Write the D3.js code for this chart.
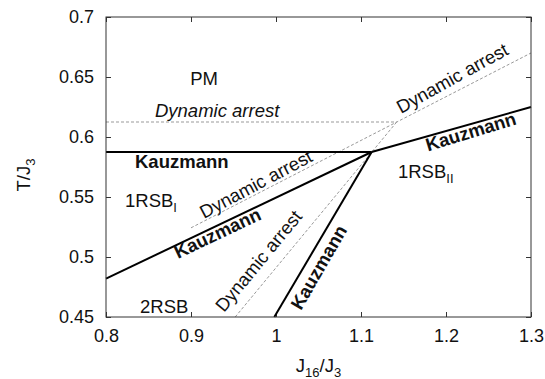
<!DOCTYPE html>
<html>
<head>
<meta charset="utf-8">
<script src="https://cdn.jsdelivr.net/npm/d3@7"></script>
<style>
  body { margin: 0; background: #fff; }
  svg { font-family: "Liberation Sans", Arial, Helvetica, sans-serif; }
  .frame { fill: none; stroke: #333; stroke-width: 1; }
  .kauzmann { fill: none; stroke: #000; stroke-width: 2; }
  .dynamic { fill: none; stroke: #999; stroke-width: 1; stroke-dasharray: 3,2; }
  .tick-label { font-size: 18px; fill: #111; }
  .note { font-size: 18.5px; fill: #111; }
</style>
</head>
<body>
<svg id="chart" width="545" height="379"></svg>
<script>
// axis ticks
const xTicks = [0.8, 0.9, 1.0, 1.1, 1.2, 1.3];
const yTicks = [0.45, 0.5, 0.55, 0.6, 0.65, 0.7];

// Kauzmann transition lines (J16/J3, T/J3)
const kauzmannTop = [[0.8, 0.5875], [1.1125, 0.5875]];
const kauzmannRight = [[1.1125, 0.5875], [1.3, 0.625]];
const kauzmannLeft = [[0.8, 0.482], [1.1125, 0.5875]];
const kauzmannSteep = [[0.998, 0.45], [1.1125, 0.5875]];

// dynamic arrest lines
const arrestTop = [[0.8, 0.6125], [1.142, 0.6125]];
const arrestShallow = [[0.9, 0.5243], [1.3, 0.67]];
const arrestSteep = [[0.952, 0.45], [1.142, 0.6125]];

// annotations: text, anchor point in data coords, rotation
const notes = [
  { text: "PM", x: 0.9153, y: 0.6433, anchor: "middle" },
  { text: "Dynamic arrest", x: 0.8576, y: 0.6164, italic: true },
  { text: "Kauzmann", x: 0.8341, y: 0.5742, bold: true },
  { text: "Dynamic arrest", x: 0.9153, y: 0.5317, angle: -28 },
  { text: "Kauzmann", x: 0.8847, y: 0.4983, angle: -25.5, bold: true },
  { text: "Dynamic arrest", x: 0.9388, y: 0.4533, angle: -50.5 },
  { text: "Kauzmann", x: 1.0294, y: 0.455, angle: -60, bold: true },
  { text: "Kauzmann", x: 1.1788, y: 0.5879, angle: -17, bold: true },
  { text: "Dynamic arrest", x: 1.147, y: 0.6192, angle: -29 },
  { text: "2RSB", x: 0.84, y: 0.4536 }
];
const phases = [
  { main: "1RSB", sub: "I", x: 0.8224, y: 0.5419 },
  { main: "1RSB", sub: "II", x: 1.1435, y: 0.5656 }
];

const margin = { left: 106, right: 14, top: 17, bottom: 62 };
const svg = d3.select("#chart");
const width = 545 - margin.left - margin.right;
const height = 379 - margin.top - margin.bottom;

const chart = svg.append("g")
  .attr("transform", "translate(" + margin.left + "," + margin.top + ")");

const xScale = d3.scaleLinear().domain([0.8, 1.3]).range([0, width]);
const yScale = d3.scaleLinear().domain([0.45, 0.7]).range([height, 0]);

const fmt = function (d) { return d === 1 ? "1" : d3.format("")(+d.toFixed(2)); };

// ticks on all four sides, pointing inward (gnuplot style)
const bottomAxis = chart.append("g")
  .attr("transform", "translate(0," + height + ")")
  .call(d3.axisBottom(xScale).tickValues(xTicks).tickSize(-5).tickPadding(12).tickFormat(fmt));
const topAxis = chart.append("g")
  .call(d3.axisTop(xScale).tickValues(xTicks).tickSize(-5).tickFormat(""));
const leftAxis = chart.append("g")
  .call(d3.axisLeft(yScale).tickValues(yTicks).tickSize(-5).tickPadding(12).tickFormat(fmt));
const rightAxis = chart.append("g")
  .attr("transform", "translate(" + width + ",0)")
  .call(d3.axisRight(yScale).tickValues(yTicks).tickSize(-5).tickFormat(""));

[bottomAxis, topAxis, leftAxis, rightAxis].forEach(function (a) {
  a.select(".domain").remove();
  a.selectAll(".tick line").attr("stroke", "#333");
  a.selectAll(".tick text").attr("class", "tick-label").attr("font-family", null).attr("font-size", null);
});
bottomAxis.selectAll(".tick text").attr("dy", "0.71em");

const line = d3.line()
  .x(function (d) { return xScale(d[0]); })
  .y(function (d) { return yScale(d[1]); });

[arrestTop, arrestShallow, arrestSteep].forEach(function (d) {
  chart.append("path").datum(d).attr("class", "dynamic").attr("d", line);
});
[kauzmannTop, kauzmannRight, kauzmannLeft, kauzmannSteep].forEach(function (d) {
  chart.append("path").datum(d).attr("class", "kauzmann").attr("d", line);
});

chart.append("rect")
  .attr("class", "frame")
  .attr("width", width)
  .attr("height", height);

chart.selectAll(".note")
  .data(notes)
  .enter().append("text")
  .attr("class", "note")
  .attr("text-anchor", function (d) { return d.anchor || "start"; })
  .attr("font-weight", function (d) { return d.bold ? "bold" : null; })
  .attr("font-style", function (d) { return d.italic ? "italic" : null; })
  .attr("transform", function (d) {
    return "translate(" + xScale(d.x) + "," + yScale(d.y) + ") rotate(" + (d.angle || 0) + ")";
  })
  .text(function (d) { return d.text; });

const phase = chart.selectAll(".phase")
  .data(phases)
  .enter().append("text")
  .attr("class", "note phase")
  .attr("x", function (d) { return xScale(d.x); })
  .attr("y", function (d) { return yScale(d.y); });
phase.append("tspan").text(function (d) { return d.main; });
phase.append("tspan").attr("dy", 5).attr("font-size", 13).text(function (d) { return d.sub; });

// axis titles
const xTitle = svg.append("text")
  .attr("class", "note")
  .attr("text-anchor", "middle")
  .attr("x", margin.left + width / 2)
  .attr("y", 372);
xTitle.append("tspan").text("J");
xTitle.append("tspan").attr("dy", 5).attr("font-size", 13).text("16");
xTitle.append("tspan").attr("dy", -5).text("/J");
xTitle.append("tspan").attr("dy", 5).attr("font-size", 13).text("3");

const yTitle = svg.append("text")
  .attr("class", "note")
  .attr("text-anchor", "middle")
  .attr("transform", "translate(30," + (margin.top + height / 2 + 8) + ") rotate(-90)");
yTitle.append("tspan").text("T/J");
yTitle.append("tspan").attr("dy", 5).attr("font-size", 13).text("3");
</script>
</body>
</html>
